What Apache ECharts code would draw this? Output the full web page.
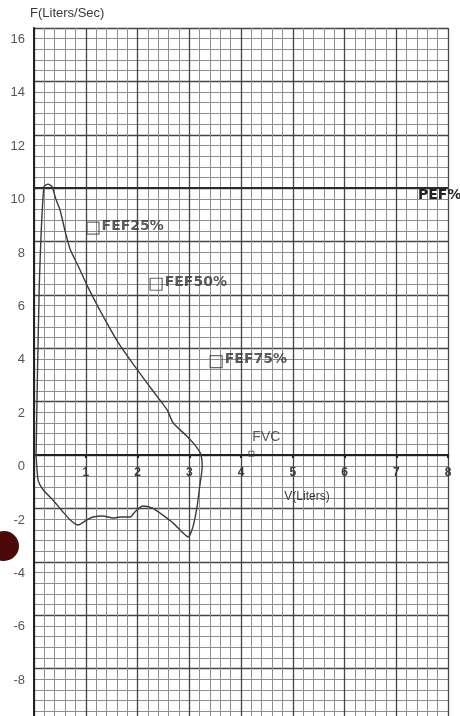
<!DOCTYPE html>
<html>
<head>
<meta charset="utf-8">
<script src="https://cdn.jsdelivr.net/npm/echarts@6/dist/echarts.min.js"></script>
<style>
  html, body { margin: 0; padding: 0; background: #fff; }
  #chart { width: 460px; height: 716px; }
</style>
</head>
<body>
<div id="chart"></div>
<script>
// expiratory limb: volume (L) and flow (L/s)
const expVolume = [0.04, 0.10, 0.19, 0.27, 0.35, 0.42, 0.50, 0.60, 0.70, 0.85, 1.04, 1.28, 1.60, 1.92, 2.30, 2.57, 2.69, 2.96, 3.10, 3.22];
const expFlow   = [0.00, 6.20, 10.05, 10.15, 10.05, 9.60, 9.20, 8.40, 7.70, 7.10, 6.30, 5.40, 4.30, 3.40, 2.40, 1.70, 1.20, 0.70, 0.40, 0.05];

// inspiratory limb
const inspVolume = [3.25, 3.20, 3.15, 3.07, 2.98, 2.88, 2.69, 2.49, 2.28, 2.10, 1.95, 1.86, 1.66, 1.53, 1.33, 1.14, 1.02, 0.85, 0.70, 0.56, 0.37, 0.18, 0.08, 0.04];
const inspFlow   = [-0.45, -1.20, -1.95, -2.70, -3.07, -2.92, -2.55, -2.25, -1.98, -1.91, -2.13, -2.32, -2.32, -2.36, -2.28, -2.32, -2.43, -2.62, -2.43, -2.13, -1.69, -1.31, -0.94, 0.00];

// marked points
const fefNames  = ['FEF25%', 'FEF50%', 'FEF75%'];
const fefVolume = [1.14, 2.36, 3.52];
const fefFlow   = [8.5, 6.4, 3.5];
const fvcVolume = 4.2;
const fvcFlow   = 0.05;
const pefFlow   = 10;

// axes
const volMin = 0, volMax = 8, volStep = 1;
const flowMin = -10, flowMax = 16, flowStep = 2;

const loop = expVolume.map((v, i) => [v, expFlow[i]])
  .concat(inspVolume.map((v, i) => [v, inspFlow[i]]));

// grid box; the plot runs a little past the bottom of the page
const W = 460, H = 716;
const gridTop = 28, gridBottom = -6;
const plotH = H - gridBottom - gridTop;
// lift the volume axis from the grid's bottom edge up to flow = 0
const zeroLift = -plotH * (0 - flowMin) / (flowMax - flowMin);

const ink = '#3a3a3a';
const minorLine = {show: true, lineStyle: {color: '#8e8e8e', width: 1}};
const majorLine = {show: true, lineStyle: {color: '#444', width: 1.3}};

const chart = echarts.init(document.getElementById('chart'));
chart.setOption({
  backgroundColor: '#fff',
  animation: false,
  grid: {left: 34, right: 12, top: gridTop, bottom: gridBottom, containLabel: false, outerBoundsMode: 'none'},
  xAxis: {
    type: 'value',
    min: volMin, max: volMax, interval: volStep,
    offset: zeroLift,
    name: 'V(Liters)',
    nameLocation: 'middle',
    nameGap: 36,
    nameTextStyle: {color: ink, fontSize: 12, fontFamily: 'Liberation Sans', padding: [0, 0, 0, 132]},
    axisLine: {onZero: false, lineStyle: {color: '#222', width: 2}},
    axisTick: {show: true, length: 3, lineStyle: {color: '#222', width: 2}},
    axisLabel: {
      color: ink, fontSize: 12, fontWeight: 'bold', fontFamily: 'Liberation Sans', margin: 12,
      formatter: v => v === 0 ? '' : String(v)
    },
    splitLine: majorLine,
    minorTick: {show: false, splitNumber: 5},
    minorSplitLine: minorLine
  },
  yAxis: {
    type: 'value',
    min: flowMin, max: flowMax, interval: flowStep,
    name: 'F(Liters/Sec)',
    nameLocation: 'end',
    nameGap: 8,
    nameTextStyle: {color: ink, fontSize: 13, fontFamily: 'Liberation Sans', align: 'left', padding: [0, 0, 0, -4]},
    axisLine: {show: true, onZero: false, lineStyle: {color: '#222', width: 2}},
    axisTick: {show: false},
    axisLabel: {
      color: '#555', fontSize: 13, fontFamily: 'Liberation Sans', margin: 9,
      verticalAlign: 'top', padding: [5, 0, 0, 0]
    },
    splitLine: majorLine,
    minorTick: {show: false, splitNumber: 5},
    minorSplitLine: minorLine
  },
  graphic: [
    {type: 'circle', shape: {cx: 4, cy: 546, r: 15}, style: {fill: '#4a0808'}, z: 100}
  ],
  series: [
    {
      name: 'loop',
      type: 'line',
      data: loop,
      showSymbol: false,
      smooth: 0.2,
      lineStyle: {color: '#3c3c3c', width: 1.4},
      z: 5,
      markLine: {
        silent: true,
        symbol: 'none',
        lineStyle: {color: '#2a2a2a', width: 2.2, type: 'solid'},
        label: {
          show: true, position: 'end', distance: 0, offset: [-30, 7],
          formatter: 'PEF%', color: '#222', fontSize: 14, fontWeight: 'bold', fontFamily: 'DejaVu Sans'
        },
        data: [{yAxis: pefFlow}]
      }
    },
    {
      name: 'FEF',
      type: 'scatter',
      data: fefVolume.map((v, i) => ({value: [v, fefFlow[i]], name: fefNames[i]})),
      symbol: 'rect',
      symbolSize: 12,
      itemStyle: {color: 'rgba(255,255,255,0)', borderColor: '#444', borderWidth: 1.2},
      label: {
        show: true, position: 'right', distance: 2, offset: [0, -2],
        formatter: p => p.name,
        color: '#333', fontSize: 14, fontWeight: 'bold', fontFamily: 'DejaVu Sans'
      },
      z: 6
    },
    {
      name: 'FVC',
      type: 'scatter',
      data: [{value: [fvcVolume, fvcFlow], name: 'FVC'}],
      symbol: 'rect',
      symbolSize: 5,
      itemStyle: {color: 'rgba(255,255,255,0)', borderColor: '#444', borderWidth: 1},
      label: {
        show: true, position: 'right', distance: 0, offset: [-2, -17],
        formatter: 'FVC', color: '#333', fontSize: 14, fontFamily: 'Liberation Sans'
      },
      z: 6
    }
  ]
});
</script>
</body>
</html>
